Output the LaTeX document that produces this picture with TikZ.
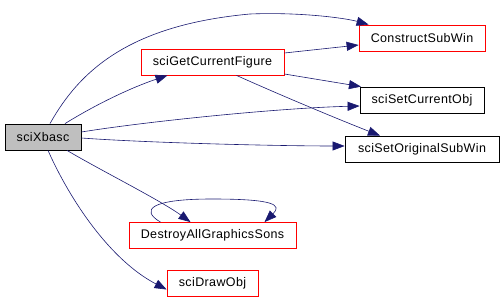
\documentclass[tikz,border=0pt]{standalone}
\usepackage{fontspec}
\setmainfont{Liberation Sans}[LetterSpace=3]
\usetikzlibrary{arrows.meta}
\definecolor{edgec}{HTML}{191970}
\definecolor{redb}{HTML}{FF0000}
\definecolor{grayf}{HTML}{BFBFBF}
\tikzset{
  fn/.style={draw, line width=0.8pt, minimum height=26pt, inner sep=0pt, font=\fontsize{12.5}{14}\selectfont, text=black},
  redfn/.style={fn, draw=redb},
  blkfn/.style={fn, draw=black},
  curfn/.style={fn, draw=black, fill=grayf},
  edge/.style={draw=edgec, line width=0.6pt, -{Triangle[length=12pt,width=9pt]}, fill=none},
}
\begin{document}
\begin{tikzpicture}[x=1pt,y=-1pt]
\useasboundingbox (0,0) rectangle (503,299);
\node[curfn, minimum width=76pt] (xb) at (43,137) {sciXbasc};
\node[redfn, minimum width=143pt] (gcf) at (212.5,62) {sciGetCurrentFigure};
\node[redfn, minimum width=126pt] (csw) at (422,38) {ConstructSubWin};
\node[blkfn, minimum width=124pt] (sco) at (422,100) {sciSetCurrentObj};
\node[blkfn, minimum width=154pt] (sosw) at (422,149) {sciSetOriginalSubWin};
\node[redfn, minimum width=167pt] (dag) at (212.5,235.5) {DestroyAllGraphicsSons};
\node[redfn, minimum width=91pt] (dob) at (212.5,283.5) {sciDrawObj};

\draw[edge] ([xshift=7pt]xb.north) .. controls (80,70) and (130,25) .. (250,14) .. controls (300,12) and (345,18) .. ([xshift=10pt]csw.north west);
\draw[edge] ([xshift=22pt]xb.north) .. controls (95,105) and (130,88) .. ([xshift=-45pt]gcf.south);
\draw[edge] ([yshift=5pt]xb.east) .. controls (150,121) and (280,108) .. ([yshift=-6pt]sco.west);
\draw[edge] ([yshift=-1pt]xb.east) .. controls (150,143) and (280,146) .. ([yshift=3pt]sosw.west);
\draw[edge] ([xshift=24pt]xb.south) .. controls (100,170) and (160,200) .. ([xshift=-22pt]dag.north);
\draw[edge] ([xshift=5pt]xb.south) .. controls (70,200) and (110,260) .. ([yshift=-6pt]dob.west);
\draw[edge] ([yshift=9pt]gcf.east) -- ([yshift=-7pt]csw.west);
\draw[edge] ([yshift=-12pt]gcf.east) -- ([xshift=-61pt]sco.north);
\draw[edge] ([xshift=24pt]gcf.south) .. controls (280,95) and (340,120) .. ([xshift=-42pt]sosw.north);
\draw[edge] ([xshift=-52pt]dag.north) .. controls (140,210) and (150,199) .. (212,199) .. controls (275,199) and (282,205) .. ([xshift=52pt]dag.north);
\end{tikzpicture}
\end{document}
